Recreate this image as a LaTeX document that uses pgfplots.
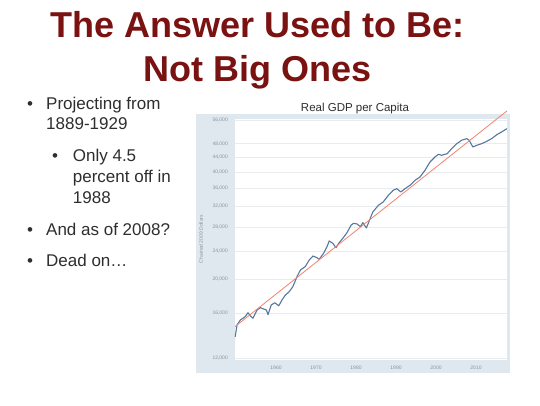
\documentclass[border=0pt]{standalone}
\usepackage{fontspec}
\setmainfont{Liberation Sans}
\usepackage{pgfplots}
\pgfplotsset{compat=1.18}
\definecolor{titlered}{HTML}{7A1212}
\definecolor{bodytext}{HTML}{2E2E2E}
\definecolor{panel}{HTML}{DFE8EF}
\definecolor{gdpblue}{HTML}{56779E}
\definecolor{trendred}{HTML}{F2836F}
\definecolor{ticktext}{HTML}{8A949C}
\definecolor{gridc}{HTML}{E8ECEF}
\begin{document}
\begin{tikzpicture}[x=1pt,y=1pt]
\fill[white] (0,0) rectangle (540,-405);
% title
\node[anchor=base, inner sep=0, font=\fontsize{36}{36}\selectfont\bfseries, text=titlered] at (257.4,-37.3) {The Answer Used to Be:};
\node[anchor=base, inner sep=0, font=\fontsize{36}{36}\selectfont\bfseries, text=titlered] at (257.4,-81.7) {Not Big Ones};
% bullets
\begin{scope}[every node/.style={anchor=base west, inner sep=0, font=\fontsize{17}{17}\selectfont, text=bodytext}]
\node at (27,-109) {•};
\node at (46,-109) {Projecting from};
\node at (46,-129.3) {1889-1929};
\node at (52,-161.7) {•};
\node at (72.7,-161.7) {Only 4.5};
\node at (72.7,-182) {percent off in};
\node at (72.7,-203.3) {1988};
\node at (27,-235.7) {•};
\node at (46,-235.7) {And as of 2008?};
\node at (27,-266) {•};
\node at (46,-266) {Dead on…};
\end{scope}
% chart panel
\fill[panel] (196,-114) rectangle (510,-373);
\node[anchor=base, inner sep=0, font=\fontsize{11.5}{12}\selectfont, text=bodytext] at (355,-111) {Real GDP per Capita};
\node[rotate=90, inner sep=0, font=\fontsize{5}{6}\selectfont, text=ticktext] at (201,-239) {Chained 2009 Dollars};
\begin{axis}[
  at={(235pt,-360pt)}, anchor=south west,
  width=272pt, height=241pt, scale only axis,
  ymode=log,
  xmin=1949.75, xmax=2017.75, ymin=11846, ymax=56363,
  clip=false,
  axis background/.style={fill=white},
  axis line style={draw=none},
  major tick length=0pt,
  ymajorgrids, major grid style={gridc, line width=0.6pt},
  ytick={12000,16000,20000,24000,28000,32000,36000,40000,44000,48000,56000},
  yticklabels={{12,000},{16,000},{20,000},{24,000},{28,000},{32,000},{36,000},{40,000},{44,000},{48,000},{56,000}},
  xtick={1960,1970,1980,1990,2000,2010},
  xticklabels={1960,1970,1980,1990,2000,2010},
  ticklabel style={font=\fontsize{5}{6}\selectfont, text=ticktext, inner sep=0},
  yticklabel style={anchor=east, xshift=-7pt},
  xticklabel style={anchor=center, yshift=-7.7pt},
]
\addplot[gdpblue, line width=1.1pt, line join=round] coordinates {
(1949.8,13770) (1950.25,14860) (1951.1,15350) (1952.3,15680) (1953.0,16090)
(1953.6,15750) (1954.25,15520) (1955.25,16370) (1956.1,16620) (1956.9,16480)
(1957.6,16370) (1958.0,15880) (1958.8,16910) (1959.7,17160) (1960.7,16830)
(1961.5,17470) (1962.3,18010) (1963.3,18430) (1964.2,19040) (1965.25,20310)
(1966.1,21210) (1967.3,21670) (1968.3,22630) (1969.25,23220) (1970.25,22970)
(1970.8,22730) (1971.9,23630) (1972.75,24660) (1973.3,25590) (1974.2,25210)
(1975.0,24500) (1975.8,25310) (1976.9,26210) (1977.75,27000) (1978.8,28380)
(1979.4,28690) (1980.25,28570) (1981.1,28070) (1981.7,28810) (1982.6,27840)
(1983.3,29130) (1984.2,30870) (1985.6,32240) (1986.8,32940) (1988.1,34400)
(1989.3,35530) (1990.2,35900) (1991.2,35140) (1992.25,35900) (1993.5,36700)
(1994.75,37910) (1996.0,38720) (1997.25,40440) (1998.5,42670) (1999.75,44080)
(2000.6,44850) (2001.4,44560) (2002.8,45030) (2003.9,46510) (2005.2,48040)
(2006.4,49110) (2007.7,49620) (2008.3,49110) (2009.2,47020) (2010.2,47540)
(2011.4,48040) (2012.7,48790) (2013.9,49620) (2015.2,50920) (2016.4,51820)
(2017.7,52930)
};
\addplot[trendred, line width=0.8pt] coordinates {(1949.75,14700) (2017.75,59400)};
\end{axis}
\end{tikzpicture}
\end{document}
